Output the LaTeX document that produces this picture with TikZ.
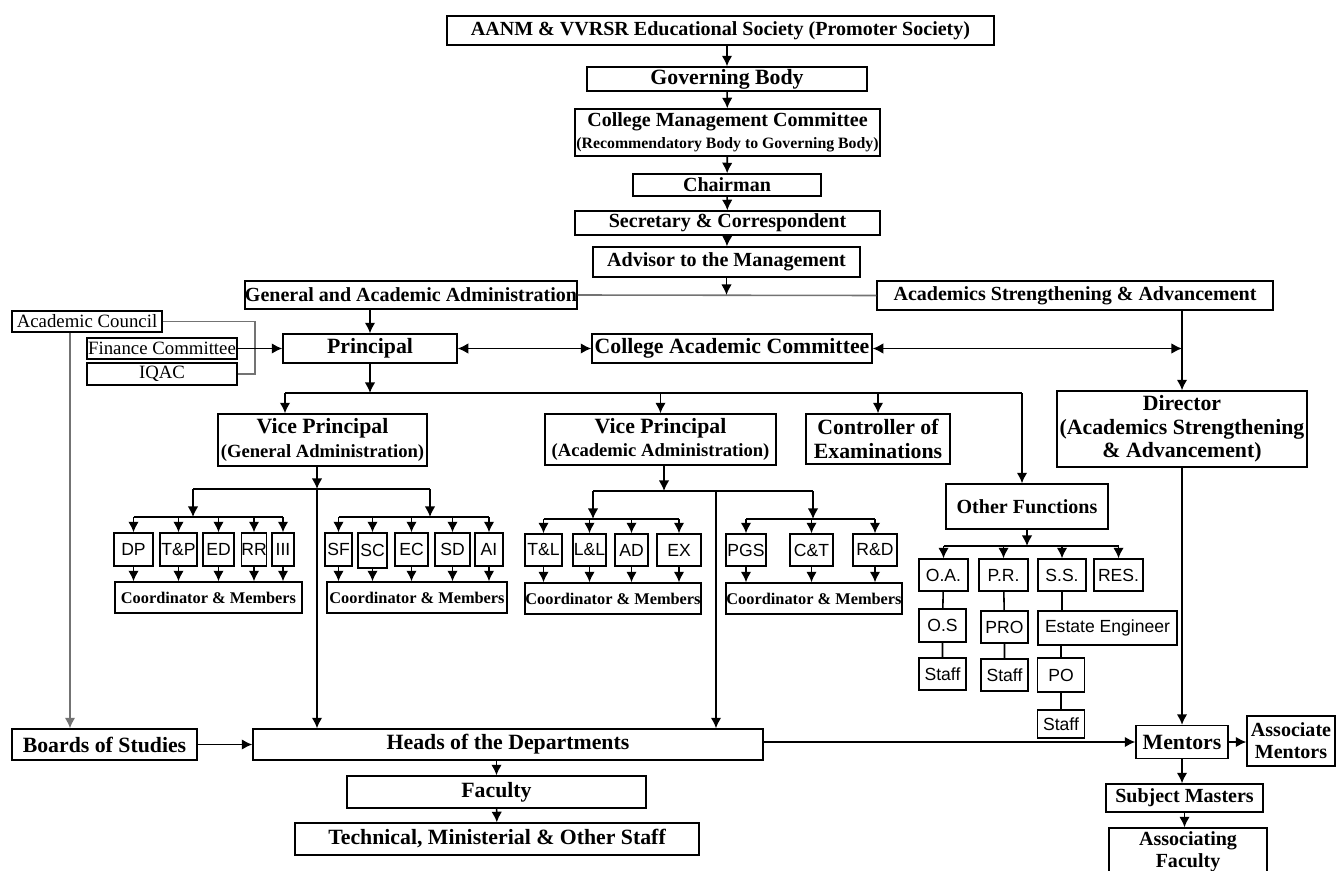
\documentclass[tikz,border=0pt]{standalone}
\usepackage{fontspec}
\setmainfont{Liberation Serif}
\newfontfamily\arialfont{Liberation Sans}
\usetikzlibrary{arrows.meta}

\tikzset{
  box/.style={draw,line width=0.8pt,inner sep=0pt,align=center,font=\bfseries\fontsize{11.4}{12.5}\selectfont},
  bigbox/.style={box,font=\bfseries\fontsize{12.4}{13.5}\selectfont},
  thinbox/.style={box,font=\fontsize{10.7}{12}\selectfont},
  cmbox/.style={box,font=\bfseries\fontsize{9.3}{10}\selectfont},
  unitbox/.style={box,font=\arialfont\fontsize{10}{11}\selectfont},
  sz/.style 2 args={minimum width=#1*0.02cm,minimum height=#2*0.02cm},
  link/.style={line width=0.9pt},
  greylink/.style={line width=0.9pt,draw=black!55},
}

\begin{document}
\begin{tikzpicture}[x=0.02cm,y=-0.02cm,>={Latex[length=6pt,width=6pt]}]
\useasboundingbox (0,0) rectangle (1337,871);
\clip (0,0) rectangle (1337,871);
%\draw[help lines] (0,0) grid[xstep=50,ystep=50] (1337,871);

% management
\node[box,sz={547}{29}] (soc) at (720.5,30.5) {AANM \& VVRSR Educational Society (Promoter Society)};
\node[bigbox,sz={280}{24}] (gov) at (727,79) {Governing Body};
\node[box,sz={305}{47}] (cmc) at (727.5,132.5) {College Management Committee\\{\fontsize{9}{10}\selectfont(Recommendatory Body to Governing Body)}};
\node[box,sz={188}{22}] (chair) at (727,185) {Chairman};
\node[box,sz={305}{24}] (sec) at (727.5,223) {Secretary \& Correspondent};
\node[box,sz={267}{30}] (adv) at (726.5,262) {Advisor to the Management};
\draw[->,link] (soc.south -| gov) -- (gov);
\draw[->,link] (gov) -- (cmc);
\draw[->,link] (cmc) -- (chair);
\draw[->,link] (chair) -- (sec);
\draw[->,link] (sec) -- (adv);

\node[box,sz={332}{28}] (gaa) at (411,295) {General and Academic Administration};
\node[box,sz={396}{29}] (asa) at (1075,295.5) {Academics Strengthening \& Advancement};
\draw[greylink] (gaa.east) -- (asa.west);
\draw[->,link] (adv.south) -- (adv.south |- gaa.east);

% principal level
\node[thinbox,sz={150}{21}] (council) at (87,321.5) {Academic Council};
\node[thinbox,sz={150}{21}] (finance) at (162,348.5) {Finance Committee};
\node[thinbox,sz={150}{22}] (iqac) at (162,374) {IQAC};
\node[bigbox,sz={174}{29}] (principal) at (370,348.5) {Principal};
\node[bigbox,sz={280}{29}] (cac) at (732,348.5) {College Academic Committee};
\node[bigbox,sz={250}{76}] (director) at (1182,429) {Director\\(Academics Strengthening\\\& Advancement)};
\coordinate (bend) at (255,350);
\coordinate (acx) at (70,0);
\coordinate (asaj) at (1182,348.5);
\draw[greylink] (council.east) -- (council.east -| bend) -- (bend |- iqac.east) -- (iqac.east);
\draw[->,link] (finance) -- (principal);
\draw[->,link] (gaa.south -| principal) -- (principal.north);
\draw[<->,link] (principal) -- (cac);
\draw[<->,link] (cac.east) -- (asaj);
\draw[->,link] (asa.south -| director) -- (director.north);

% second level
\node[bigbox,sz={209}{52}] (vpg) at (322.5,440) {Vice Principal\\{\fontsize{10.6}{12}\selectfont(General Administration)}};
\node[bigbox,sz={231}{51}] (vpa) at (660.5,439.5) {Vice Principal\\{\fontsize{10.6}{12}\selectfont(Academic Administration)}};
\node[bigbox,sz={144}{50}] (coe) at (878,439) {Controller of\\Examinations};
\node[box,sz={162}{45}] (other) at (1027,506.5) {Other Functions};
\coordinate (pb1) at (285,393);
\coordinate (pb2) at (1022,393);
\draw[->,link] (principal.south) -- (principal.south |- pb1);
\draw[link] (pb1) -- (pb2);
\draw[->,link] (pb1) -- (pb1 |- vpg.north);
\draw[->,link] (vpa.north |- pb1) -- (vpa.north);
\draw[->,link] (coe.north |- pb1) -- (coe.north);
\draw[->,link] (pb2) -- (pb2 |- other.north);

% general administration units
\node[unitbox,sz={39}{33}] (dp) at (133.5,549.5) {DP};
\node[unitbox,sz={37}{33}] (tp) at (178.5,549.5) {T\&P};
\node[unitbox,sz={31}{33}] (ed) at (218.5,549.5) {ED};
\node[unitbox,sz={24}{33}] (rr) at (254,549.5) {RR};
\node[unitbox,sz={22}{33}] (iii) at (283,549.5) {III};
\node[unitbox,sz={27}{33}] (sf) at (338.5,549.5) {SF};
\node[unitbox,sz={29}{35}] (sc) at (372.5,550.5) {SC};
\node[unitbox,sz={33}{33}] (ec) at (411.5,549.5) {EC};
\node[unitbox,sz={35}{33}] (sd) at (452.5,549.5) {SD};
\node[unitbox,sz={28}{33}] (ai) at (489,549.5) {AI};
\node[cmbox,sz={187}{31}] (cml) at (208.5,597.5) {Coordinator \& Members};
\node[cmbox,sz={180}{31}] (cmr) at (417,597.5) {Coordinator \& Members};
\coordinate (gb) at (317,489);
\coordinate (gb1) at (193,489);
\coordinate (gb2) at (430,489);
\coordinate (gs1) at (193,517);
\coordinate (gs2) at (430,517);
\draw[->,link] (vpg.south -| gb) -- (gb);
\draw[link] (gb1) -- (gb2);
\draw[->,link] (gb1) -- (gs1);
\draw[->,link] (gb2) -- (gs2);
\draw[link] (dp.north |- gs1) -- (iii.north |- gs1);
\draw[link] (sf.north |- gs2) -- (ai.north |- gs2);
\draw[->,link] (dp.north |- gs1) -- (dp.north);
\draw[->,link] (tp.north |- gs1) -- (tp.north);
\draw[->,link] (ed.north |- gs1) -- (ed.north);
\draw[->,link] (rr.north |- gs1) -- (rr.north);
\draw[->,link] (iii.north |- gs1) -- (iii.north);
\draw[->,link] (sf.north |- gs2) -- (sf.north);
\draw[->,link] (sc.north |- gs2) -- (sc.north);
\draw[->,link] (ec.north |- gs2) -- (ec.north);
\draw[->,link] (sd.north |- gs2) -- (sd.north);
\draw[->,link] (ai.north |- gs2) -- (ai.north);
\draw[->,link] (dp.south) -- (dp.south |- cml.north);
\draw[->,link] (tp.south) -- (tp.south |- cml.north);
\draw[->,link] (ed.south) -- (ed.south |- cml.north);
\draw[->,link] (rr.south) -- (rr.south |- cml.north);
\draw[->,link] (iii.south) -- (iii.south |- cml.north);
\draw[->,link] (sf.south) -- (sf.south |- cmr.north);
\draw[->,link] (sc.south) -- (sc.south |- cmr.north);
\draw[->,link] (ec.south) -- (ec.south |- cmr.north);
\draw[->,link] (sd.south) -- (sd.south |- cmr.north);
\draw[->,link] (ai.south) -- (ai.south |- cmr.north);

% academic administration units
\node[unitbox,sz={37}{32}] (tl) at (543.5,550) {T\&L};
\node[unitbox,sz={33}{32}] (ll) at (589.5,550) {L\&L};
\node[unitbox,sz={33}{32}] (ad) at (631.5,550) {AD};
\node[unitbox,sz={44}{32}] (ex) at (679,550) {EX};
\node[unitbox,sz={40}{32}] (pgs) at (746,550) {PGS};
\node[unitbox,sz={43}{32}] (ct) at (811.5,550) {C\&T};
\node[unitbox,sz={44}{32}] (rd) at (875,550) {R\&D};
\node[cmbox,sz={176}{31}] (cal) at (613,598.5) {Coordinator \& Members};
\node[cmbox,sz={176}{31}] (car) at (814,598.5) {Coordinator \& Members};
\coordinate (ab) at (664,491);
\coordinate (ah) at (716,491);
\coordinate (ab1) at (593,491);
\coordinate (ab2) at (813,491);
\coordinate (as1) at (593,519);
\coordinate (as2) at (813,519);
\draw[->,link] (vpa.south -| ab) -- (ab);
\draw[link] (ab1) -- (ab2);
\draw[->,link] (ab1) -- (as1);
\draw[->,link] (ab2) -- (as2);
\draw[link] (tl.north |- as1) -- (ex.north |- as1);
\draw[link] (pgs.north |- as2) -- (rd.north |- as2);
\draw[->,link] (tl.north |- as1) -- (tl.north);
\draw[->,link] (ll.north |- as1) -- (ll.north);
\draw[->,link] (ad.north |- as1) -- (ad.north);
\draw[->,link] (ex.north |- as1) -- (ex.north);
\draw[->,link] (pgs.north |- as2) -- (pgs.north);
\draw[->,link] (ct.north |- as2) -- (ct.north);
\draw[->,link] (rd.north |- as2) -- (rd.north);
\draw[->,link] (tl.south) -- (tl.south |- cal.north);
\draw[->,link] (ll.south) -- (ll.south |- cal.north);
\draw[->,link] (ad.south) -- (ad.south |- cal.north);
\draw[->,link] (ex.south) -- (ex.south |- cal.north);
\draw[->,link] (pgs.south) -- (pgs.south |- car.north);
\draw[->,link] (ct.south) -- (ct.south |- car.north);
\draw[->,link] (rd.south) -- (rd.south |- car.north);

% other functions
\node[unitbox,sz={49}{32}] (oa) at (943.5,575) {O.A.};
\node[unitbox,sz={49}{32}] (pr) at (1003.5,575) {P.R.};
\node[unitbox,sz={48}{32}] (ss) at (1062,575) {S.S.};
\node[unitbox,sz={49}{32}] (res) at (1118.5,575) {RES.};
\node[unitbox,sz={47}{33}] (os) at (942.5,625.5) {O.S};
\node[unitbox,sz={47}{32}] (pro) at (1004.5,627) {PRO};
\node[unitbox,sz={139}{34}] (estate) at (1107.5,628) {Estate Engineer};
\node[unitbox,sz={47}{32}] (staffa) at (942.5,674) {Staff};
\node[unitbox,sz={47}{32}] (staffb) at (1004.5,675) {Staff};
\node[unitbox,sz={47}{34}] (po) at (1061,675) {PO};
\node[unitbox,sz={47}{28}] (staffc) at (1061,724) {Staff};
\coordinate (ob) at (1027,546);
\draw[->,link] (other.south) -- (ob);
\draw[link] (oa.north |- ob) -- (res.north |- ob);
\draw[->,link] (oa.north |- ob) -- (oa.north);
\draw[->,link] (pr.north |- ob) -- (pr.north);
\draw[->,link] (ss.north |- ob) -- (ss.north);
\draw[->,link] (res.north |- ob) -- (res.north);
\draw[link] (oa) -- (os) -- (staffa);
\draw[link] (pr) -- (pro) -- (staffb);
\draw[link] (ss.south) -- (ss.south |- estate.north);
\draw[link] (po.north |- estate.south) -- (po.north);
\draw[link] (po) -- (staffc);

% departments
\node[bigbox,sz={185}{31}] (boards) at (104.5,744.5) {Boards of Studies};
\node[bigbox,sz={510}{31}] (heads) at (508,744.5) {Heads of the Departments};
\node[bigbox,sz={299}{32}] (faculty) at (496.5,792) {Faculty};
\node[bigbox,sz={404}{32}] (tech) at (497,839) {Technical, Ministerial \& Other Staff};
\draw[->,greylink] (council.south -| acx) -- (boards.north -| acx);
\draw[->,link] (boards) -- (heads);
\draw[->,link] (gb) -- (gb |- heads.north);
\draw[->,link] (ah) -- (ah |- heads.north);
\draw[->,link] (heads.south -| faculty) -- (faculty.north);
\draw[->,link] (faculty) -- (tech);

% mentoring
\node[bigbox,sz={92}{33}] (mentors) at (1182,742) {Mentors};
\node[box,sz={88}{50}] (assoc) at (1291,741) {Associate\\Mentors};
\node[box,sz={157}{28}] (subj) at (1184.5,798) {Subject Masters};
\node[box,sz={158}{48}] (assocfac) at (1188,852) {Associating\\Faculty};
\draw[->,link] (director.south -| mentors) -- (mentors.north);
\draw[->,link] (heads.east |- mentors.west) -- (mentors.west);
\draw[->,link] (mentors.east) -- (mentors.east -| assoc.west);
\draw[->,link] (mentors.south) -- (mentors.south |- subj.north);
\draw[->,link] (subj.south) -- (subj.south |- assocfac.north);
\end{tikzpicture}
\end{document}
